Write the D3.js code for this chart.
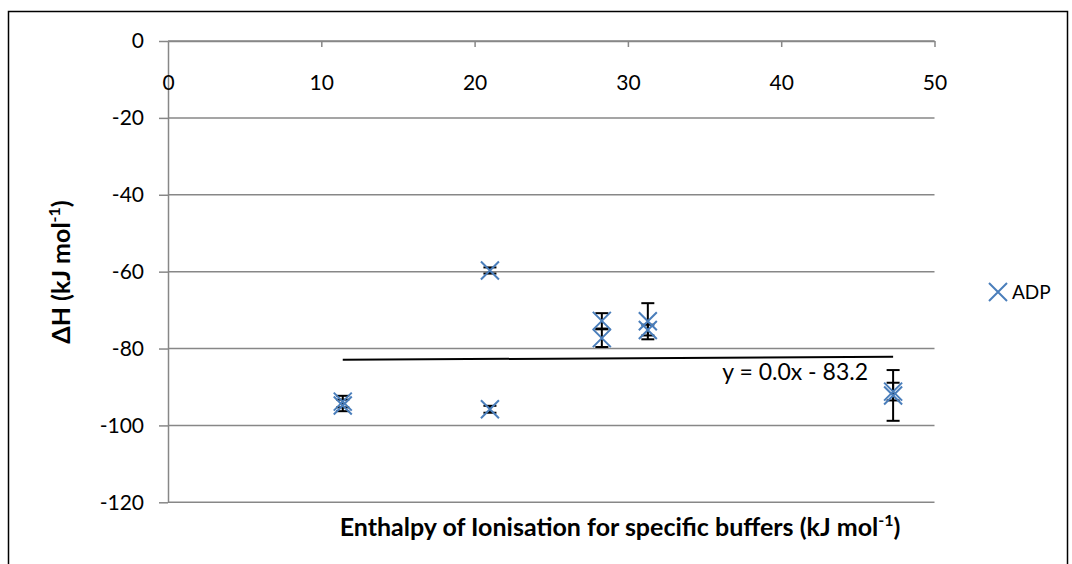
<!DOCTYPE html>
<html>
<head>
<meta charset="utf-8">
<script src="https://cdn.jsdelivr.net/npm/d3@7"></script>
<style>
  body { margin: 0; background: #fff; }
  svg { display: block; font-family: Lato, "Liberation Sans", sans-serif; }
</style>
</head>
<body>
<svg width="1072" height="564"></svg>
<script>
// buffer ionisation enthalpy vs measured dH, ADP series
var xVals = [11.4, 11.4, 21.0, 21.0, 28.3, 28.3, 31.3, 31.3, 47.3, 47.3];
var yVals = [-93.8, -94.8, -95.8, -59.7, -72.8, -77.3, -72.9, -75.2, -92.2, -91.2];
var yErr  = [1.5, 1.5, 0.9, 0.8, 2.0, 2.3, 4.7, 1.4, 6.6, 2.3];
var xTicks = [0, 10, 20, 30, 40, 50];
var yTicks = [0, -20, -40, -60, -80, -100, -120];
var seriesName = "ADP";

var svg = d3.select("svg");
var blue = "#4a7ebb", grid = "#878787";

svg.append("rect")
    .attr("x", 8.5).attr("y", 11.5)
    .attr("width", 1059).attr("height", 570)
    .attr("fill", "none").attr("stroke", "#000").attr("stroke-width", 1.5);

var x = d3.scaleLinear().domain([0, 50]).range([168, 934.5]),
    y = d3.scaleLinear().domain([-120, 0]).range([502.3, 41]);

// horizontal gridlines
svg.append("g").selectAll("line")
    .data(yTicks)
    .enter().append("line")
    .attr("x1", x(0)).attr("x2", x(50))
    .attr("y1", function (d) { return y(d); })
    .attr("y2", function (d) { return y(d); })
    .attr("stroke", grid).attr("stroke-width", 1.5);

var fmt = function (d) { return String(d); };   // plain hyphen minus like excel

var yAxis = svg.append("g")
    .attr("transform", "translate(" + x(0) + ",0)")
    .call(d3.axisLeft(y).tickValues(yTicks).tickFormat(fmt).tickSize(9).tickSizeOuter(0).tickPadding(15));

var xAxis = svg.append("g")
    .attr("transform", "translate(0," + y(0) + ")")
    .call(d3.axisBottom(x).tickValues(xTicks).tickFormat(fmt).tickSize(6).tickSizeOuter(0).tickPadding(28));

[yAxis, xAxis].forEach(function (a) {
    a.select(".domain").attr("stroke", grid).attr("stroke-width", 1.5);
    a.selectAll(".tick line").attr("stroke", grid).attr("stroke-width", 1.5);
    a.selectAll(".tick text").attr("fill", "#000").attr("font-size", "21px")
        .attr("font-family", "Lato, 'Liberation Sans', sans-serif");
});
xAxis.selectAll(".tick").filter(function (d) { return d === 0; }).select("line").remove();

// linear trendline over the data range
var mx = d3.mean(xVals), my = d3.mean(yVals),
    sxy = d3.sum(xVals, function (v, i) { return (v - mx) * (yVals[i] - my); }),
    sxx = d3.sum(xVals, function (v) { return (v - mx) * (v - mx); }),
    slope = sxy / sxx, icpt = my - slope * mx;
var x0 = d3.min(xVals), x1 = d3.max(xVals);
svg.append("line")
    .attr("x1", x(x0)).attr("y1", y(icpt + slope * x0))
    .attr("x2", x(x1)).attr("y2", y(icpt + slope * x1))
    .attr("stroke", "#000").attr("stroke-width", 2);

svg.append("text")
    .attr("x", 868).attr("y", 380)
    .attr("text-anchor", "end")
    .attr("font-size", "23px")
    .text("y = " + slope.toFixed(1) + "x - " + Math.abs(icpt).toFixed(1));

// error bars
var pts = xVals.map(function (v, i) { return { x: v, y: yVals[i], e: yErr[i] }; });
var eb = svg.append("g").attr("stroke", "#000").attr("stroke-width", 2);
pts.forEach(function (d) {
    var cx = x(d.x), top = y(d.y + d.e), bot = y(d.y - d.e);
    eb.append("line").attr("x1", cx).attr("x2", cx).attr("y1", top).attr("y2", bot);
    eb.append("line").attr("x1", cx - 6.5).attr("x2", cx + 6.5).attr("y1", top).attr("y2", top);
    eb.append("line").attr("x1", cx - 6.5).attr("x2", cx + 6.5).attr("y1", bot).attr("y2", bot);
});

function cross(sel, s) {
    return sel.attr("d", "M" + (-s) + "," + (-s) + "L" + s + "," + s + "M" + (-s) + "," + s + "L" + s + "," + (-s))
        .attr("stroke", blue).attr("stroke-width", 2).attr("fill", "none");
}

svg.append("g").selectAll("path")
    .data(pts)
    .enter().append("path")
    .attr("transform", function (d) { return "translate(" + x(d.x) + "," + y(d.y) + ")"; })
    .call(cross, 9);

// legend
cross(svg.append("path").attr("transform", "translate(998,292)"), 9);
svg.append("text").attr("x", 1012).attr("y", 299).attr("font-size", "19px").text(seriesName);

// axis titles
var xt = svg.append("text")
    .attr("x", 620).attr("y", 536)
    .attr("text-anchor", "middle")
    .attr("font-size", "25px").attr("font-weight", "bold");
xt.append("tspan").text("Enthalpy of Ionisation for specific buffers (kJ mol");
xt.append("tspan").attr("dy", -10).attr("font-size", "16px").text("-1");
xt.append("tspan").attr("dy", 10).text(")");

var yt = svg.append("text")
    .attr("transform", "translate(70,272) rotate(-90)")
    .attr("text-anchor", "middle")
    .attr("font-size", "25px").attr("font-weight", "bold");
yt.append("tspan").text("\u0394H (kJ mol");
yt.append("tspan").attr("dy", -10).attr("font-size", "16px").text("-1");
yt.append("tspan").attr("dy", 10).text(")");
</script>
</body>
</html>
